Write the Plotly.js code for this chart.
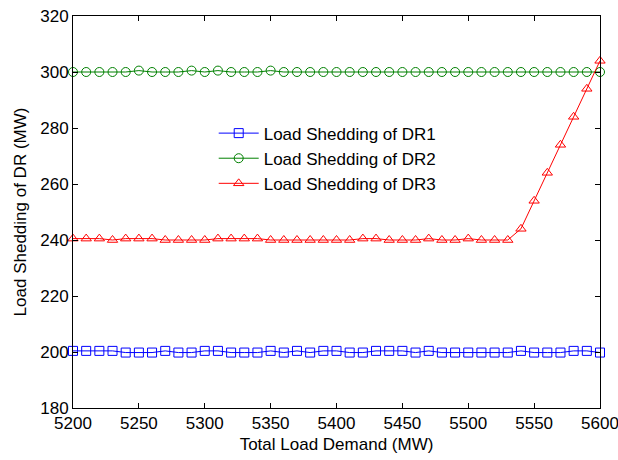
<!DOCTYPE html>
<html>
<head>
<meta charset="utf-8">
<script src="https://cdn.plot.ly/plotly-3.0.1.min.js"></script>
<style>html,body{margin:0;padding:0;background:#fff;}#chart{width:618px;height:460px;}</style>
</head>
<body>
<div id="chart"></div>
<script>
const demand = [5200,5210,5220,5230,5240,5250,5260,5270,5280,5290,5300,5310,5320,5330,5340,5350,5360,5370,5380,5390,5400,
  5410,5420,5430,5440,5450,5460,5470,5480,5490,5500,5510,5520,5530,5540,5550,5560,5570,5580,5590,5600];
const dr1 = [200.4,200.4,200.4,200.4,199.8,199.8,199.8,200.4,199.8,199.8,200.4,200.4,199.8,199.8,199.8,200.4,199.8,200.4,199.8,200.4,200.4,
  199.8,199.8,200.4,200.4,200.4,199.8,200.4,199.8,199.8,199.8,199.8,199.8,199.8,200.4,199.8,199.8,199.8,200.4,200.4,199.8];
const dr2 = [300,300,300,300,300,300.5,300,300,300,300.5,300,300.5,300,300,300,300.5,300,300,300,300,300,
  300,300,300,300,300,300,300,300,300,300,300,300,300,300,300,300,300,300,300,300];
const dr3 = [240.5,240.5,240.5,240,240.5,240.5,240.5,240,240,240,240,240.5,240.5,240.5,240.5,240,240,240,240,240,240,
  240,240.5,240.5,240,240,240,240.5,240,240,240.5,240,240,240,244,254,264,274,284,294,304];
const names = ['Load Shedding of DR1','Load Shedding of DR2','Load Shedding of DR3'];
const xTicks = [5200,5250,5300,5350,5400,5450,5500,5550,5600];
const yTicks = [180,200,220,240,260,280,300,320];

const font = {family:'Arial, Liberation Sans, sans-serif', size:17, color:'#000'};
function tr(y, name, color, symbol){
  return {x:demand, y:y, name:name, type:'scatter', mode:'lines+markers', cliponaxis:false,
    line:{color:color, width:1},
    marker:{symbol:symbol, size:9, color:color, line:{color:color, width:1}}};
}
const data = [
  tr(dr1, names[0], '#0000ff', 'square-open'),
  tr(dr2, names[1], '#008000', 'circle-open'),
  tr(dr3, names[2], '#ff0000', 'triangle-up-open')
];
const axis = {showgrid:false, zeroline:false, showline:true, linecolor:'#000', linewidth:1,
  mirror:'ticks', ticks:'inside', ticklen:5, tickcolor:'#000', tickfont:font, ticklabeloverflow:'allow'};
const layout = {
  width:618, height:460, margin:{l:73, r:18, t:16, b:52},
  paper_bgcolor:'#fff', plot_bgcolor:'#fff', font:font,
  xaxis:Object.assign({}, axis, {range:[5200,5600], tickvals:xTicks,
    title:{text:'Total Load Demand (MW)', font:font, standoff:5}}),
  yaxis:Object.assign({}, axis, {range:[180,320], tickvals:yTicks,
    title:{text:'Load Shedding of DR (MW)', font:font, standoff:9}}),
  legend:{x:0.267, y:0.746, xanchor:'left', yanchor:'top', bgcolor:'rgba(0,0,0,0)',
    font:font, tracegroupgap:0, itemwidth:40},
  showlegend:true
};
Plotly.newPlot('chart', data, layout, {staticPlot:true, displayModeBar:false});
</script>
</body>
</html>
